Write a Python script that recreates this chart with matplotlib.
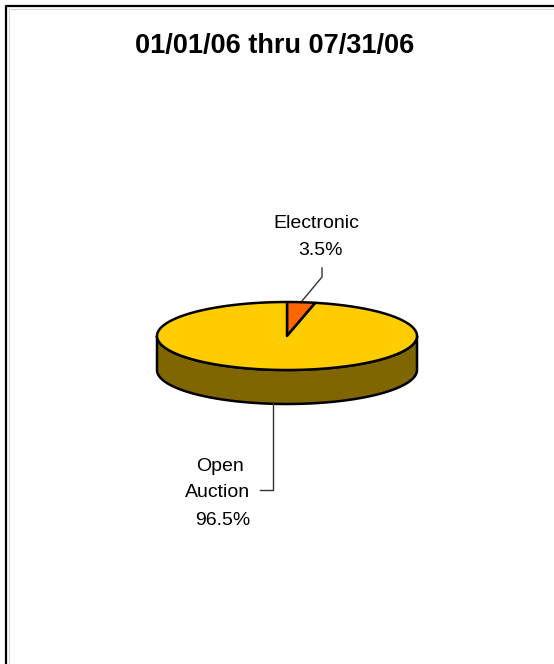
import matplotlib.pyplot as plt
import numpy as np
from matplotlib.patches import Polygon

title = '01/01/06 thru 07/31/06'
categories = ['Electronic', 'Open Auction']
shares = [3.5, 96.5]

top_colors = ['#ff6600', '#ffcc00']
side_colors = ['#803300', '#806600']

plt.rcParams['font.family'] = ['Liberation Sans', 'DejaVu Sans']

W, H = 554, 664
fig = plt.figure(figsize=(W / 100, H / 100), dpi=100)
ax = fig.add_axes([0, 0, 1, 1])
ax.set_xlim(0, W)
ax.set_ylim(H, 0)
ax.axis('off')

# pie geometry (pixel units, y pointing down)
cx, cy = 287, 336
a, b = 130, 34
depth = 34


def ellipse_pts(t0, t1, dy=0, n=200):
    t = np.linspace(t0, t1, n)
    return np.column_stack([cx + a * np.cos(t), cy + dy + b * np.sin(t)])


# slice angles, clockwise from 12 o'clock
fracs = np.array(shares) / sum(shares)
starts = -np.pi / 2 + 2 * np.pi * np.concatenate([[0], np.cumsum(fracs)[:-1]])
ends = starts + 2 * np.pi * fracs

# front wall: only the part of each slice facing the viewer (0..pi)
for s, e, c in zip(starts, ends, side_colors):
    for k in (-1, 0, 1):
        s2, e2 = s + 2 * np.pi * k, e + 2 * np.pi * k
        t0, t1 = max(s2, 0), min(e2, np.pi)
        if t1 > t0:
            top = ellipse_pts(t0, t1)
            bot = ellipse_pts(t1, t0, dy=depth)
            ax.add_patch(Polygon(np.vstack([top, bot]), closed=True,
                                 facecolor=c, edgecolor='black', lw=1.8,
                                 joinstyle='round', zorder=2))

# top faces
for s, e, c in zip(starts, ends, top_colors):
    pts = np.vstack([[cx, cy], ellipse_pts(s, e)])
    ax.add_patch(Polygon(pts, closed=True, facecolor=c, edgecolor='black',
                         lw=1.8, joinstyle='round', zorder=3))

# labels
txt = dict(fontsize=14, ha='center', va='baseline', color='black')
ax.text(316, 228, categories[0], **txt)
ax.text(320, 255, f'{shares[0]:.1f}%', **txt)
ax.plot([322, 322, 302], [268, 277, 301], color='#333333', lw=1, zorder=4)

ax.text(220, 471, 'Open', **txt)
ax.text(218, 497, 'Auction', **txt)
ax.text(223, 525, f'{shares[1]:.1f}%', **txt)
ax.plot([273, 273, 260], [403, 490, 490], color='#333333', lw=1, zorder=4)

ax.text(275, 53, title, fontsize=19.5, fontweight='bold', ha='center',
        va='baseline')

# outer frame
ax.plot([6, 6, W], [H, 6, 6], color='black', lw=1.6, solid_capstyle='butt')
ax.plot([9, 9, W], [H, 9, 9], color='#d8d8d8', lw=0.8, solid_capstyle='butt')

fig.savefig('out.png', dpi=100)
